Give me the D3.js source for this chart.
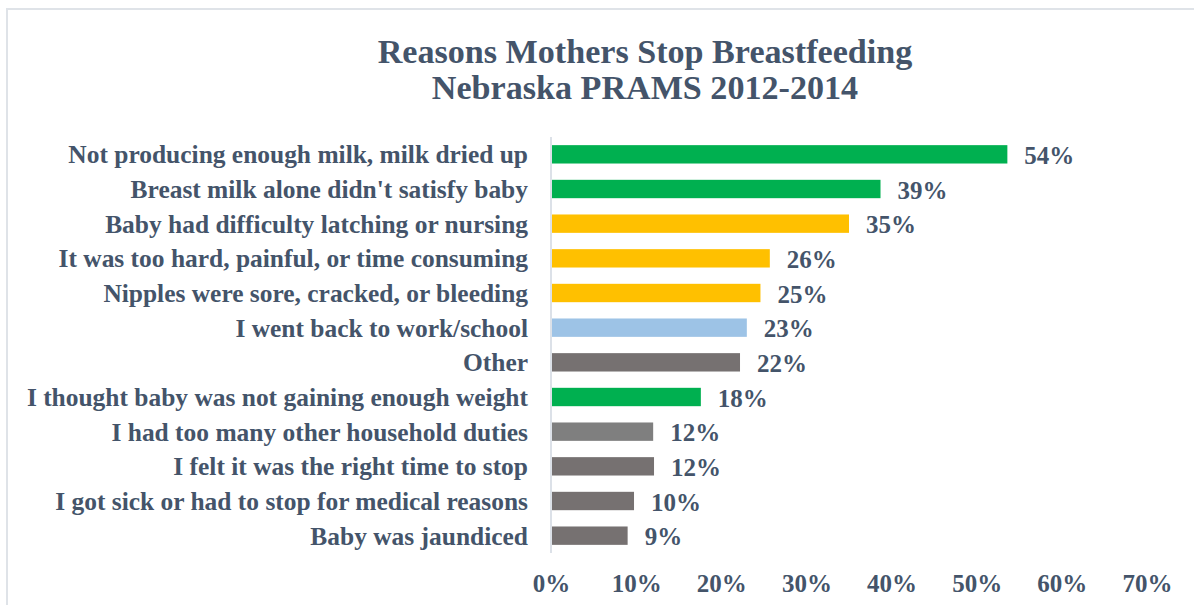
<!DOCTYPE html>
<html><head><meta charset="utf-8">
<script src="https://cdn.jsdelivr.net/npm/d3@7"></script>
<style>
html,body{margin:0;padding:0;background:#fff;}
svg{display:block;}
text{font-family:"Liberation Serif","Times New Roman",serif;font-weight:bold;fill:#44546A;}
</style></head>
<body><svg id="c" width="1194" height="605"></svg>
<script>
const titleLines = ["Reasons Mothers Stop Breastfeeding", "Nebraska PRAMS 2012-2014"];
const categories = [
  "Not producing enough milk, milk dried up",
  "Breast milk alone didn't satisfy baby",
  "Baby had difficulty latching or nursing",
  "It was too hard, painful, or time consuming",
  "Nipples were sore, cracked, or bleeding",
  "I went back to work/school",
  "Other",
  "I thought baby was not gaining enough weight",
  "I had too many other household duties",
  "I felt it was the right time to stop",
  "I got sick or had to stop for medical reasons",
  "Baby was jaundiced"
];
const values = [53.6, 38.7, 35.0, 25.7, 24.6, 23.0, 22.2, 17.6, 12.0, 12.1, 9.75, 9.0];
const barColors = ["#00B050","#00B050","#FFC000","#FFC000","#FFC000","#9DC3E6","#767171","#00B050","#7F7F7F","#767171","#767171","#767171"];
const tickValues = [0,10,20,30,40,50,60,70];

const svg = d3.select("#c");
const W = 1194, H = 605;
svg.append("rect").attr("width",W).attr("height",H).attr("fill","#fff");
svg.append("path").attr("d",`M7,${H} V9 H${W}`).attr("fill","none").attr("stroke","#DFE3E8").attr("stroke-width",2);

function fitSize(sel, text, targetW, base){
  const t = sel.append("text").attr("font-size",base).text(text);
  const w = t.node().getComputedTextLength();
  t.remove();
  return base*targetW/w;
}
const labelSize = fitSize(svg, categories[0], 460, 20);
const titleSize = fitSize(svg, titleLines[0], 535, 28);
const valSize = fitSize(svg, "54%", 50, 20);

const x = d3.scaleLinear().domain([0,70]).range([551,1147]);
const y = d3.scaleBand().domain(categories).range([137,553]).paddingInner(0.47).paddingOuter(0.235);

svg.append("g").selectAll("text").data(titleLines).join("text")
  .attr("x",645).attr("y",(d,i)=>63+i*36).attr("text-anchor","middle")
  .attr("font-size",titleSize).text(d=>d);

svg.append("g").selectAll("rect").data(categories).join("rect")
  .attr("x",x(0)).attr("y",d=>y(d)).attr("height",y.bandwidth())
  .attr("width",(d,i)=>x(values[i])-x(0)).attr("fill",(d,i)=>barColors[i]);

svg.append("line").attr("x1",x(0)).attr("x2",x(0)).attr("y1",137).attr("y2",553)
  .attr("stroke","#DCE1E8").attr("stroke-width",2);

svg.append("g").selectAll("text").data(categories).join("text")
  .attr("x",528).attr("y",d=>y(d)+y.bandwidth()/2).attr("dy","0.35em")
  .attr("text-anchor","end").attr("font-size",labelSize).text(d=>d);

const fmt = d3.format(".0f");
svg.append("g").selectAll("text").data(categories).join("text")
  .attr("x",(d,i)=>x(values[i])+17).attr("y",d=>y(d)+y.bandwidth()/2).attr("dy","0.38em")
  .attr("font-size",valSize).text((d,i)=>fmt(values[i])+"%");

const xAxis = d3.axisBottom(x).tickValues(tickValues).tickFormat(d=>d+"%").tickSize(0).tickPadding(0);
const gx = svg.append("g").attr("transform","translate(0,574)").call(xAxis);
gx.select(".domain").remove();
gx.selectAll("text").attr("font-size",valSize).attr("font-family",null).attr("fill","#44546A").attr("dy","0.71em");
</script></body></html>
